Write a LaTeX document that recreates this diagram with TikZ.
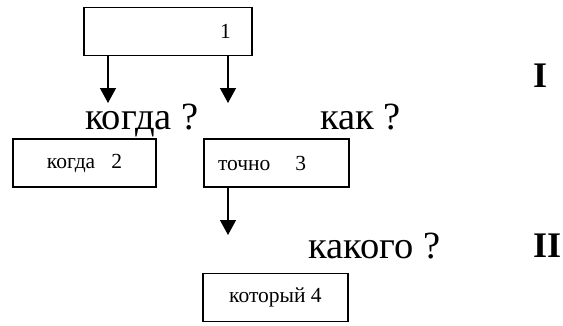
\documentclass[tikz,border=0pt]{standalone}
\usepackage{fontspec}
\setmainfont{Liberation Serif}
\usetikzlibrary{arrows.meta}
\begin{document}
\begin{tikzpicture}[x=1pt,y=-1pt,
  box/.style={draw,line width=1.1pt,minimum height=48pt,inner sep=0pt,
    font=\fontsize{21.5}{25}\selectfont},
  big/.style={anchor=base west,inner sep=0pt,font=\fontsize{38.5}{44}\selectfont},
  roman/.style={anchor=base west,inner sep=0pt,font=\fontsize{36}{42}\selectfont\bfseries},
  arr/.style={line width=1.3pt,-{Triangle[width=16pt,length=15pt]}}]
\useasboundingbox (0,0) rectangle (563,325);
% boxes
\node[box,minimum width=168pt,text width=126pt,align=right,inner xsep=21pt] (b1) at (168,31.5) {1};
\node[box,minimum width=143pt] (b2) at (84.5,163) {когда\ \ \ 2};
\node[box,minimum width=145pt,text width=117pt,align=left,inner xsep=14pt] (b3) at (276.5,163) {точно\hspace{25pt}3};
\node[box,minimum width=145pt] (b4) at (275.5,297.5) {который 4};
% question labels
\node[big] (q1) at (85,129) {когда ?};
\node[big] (q2) at (320,129) {как ?};
\node[big] (q3) at (308,258) {какого ?};
% level marks
\node[roman] (l1) at (533,87) {I};
\node[roman] (l2) at (533,257) {II};
% arrows
\coordinate (e1) at (108,103);
\coordinate (e2) at (228,103);
\coordinate (e3) at (228,235);
\draw[arr] (b1.south -| e1) -- (e1);
\draw[arr] (b1.south -| e2) -- (e2);
\draw[arr] (b3.south -| e3) -- (e3);
\end{tikzpicture}
\end{document}
